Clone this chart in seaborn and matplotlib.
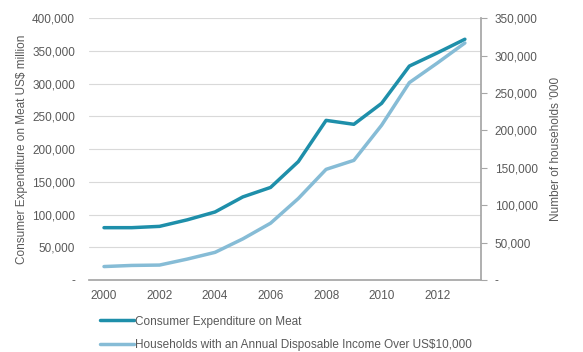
import numpy as np
import pandas as pd
import matplotlib
matplotlib.use("Agg")
import matplotlib.pyplot as plt
import seaborn as sns
from matplotlib.ticker import FuncFormatter, MultipleLocator
from matplotlib.lines import Line2D

# --- data ---
years = [2000, 2001, 2002, 2003, 2004, 2005, 2006, 2007, 2008, 2009, 2010, 2011, 2012, 2013]
meat_spend = [80000, 80000, 82000, 92000, 104000, 127000, 141500, 181000, 244000, 238000,
              270000, 327000, 347000, 368000]
households = [18000, 19500, 20000, 28000, 37000, 55000, 76000, 109000, 148000, 160000,
              207000, 264000, 290000, 317000]

label_meat = "Consumer Expenditure on Meat"
label_hh = "Households with an Annual Disposable Income Over US$10,000"

dark = "#1E8FAA"
light = "#86BCD6"
grey_txt = "#595959"
grey_axis = "#A6A6A6"

sns.set_theme(style="white")
plt.rcParams["font.family"] = ["Liberation Sans", "DejaVu Sans"]

df = pd.DataFrame({"year": years, "meat": meat_spend, "hh": households})

fig = plt.figure(figsize=(5.83, 3.52), dpi=100)
ax = fig.add_axes([0.1527, 0.2045, 0.6723, 0.7435])
ax2 = ax.twinx()

sns.lineplot(data=df, x="year", y="meat", ax=ax, color=dark, linewidth=2.5)
sns.lineplot(data=df, x="year", y="hh", ax=ax2, color=light, linewidth=2.5)

def fmt(v, pos):
    return "-" if v == 0 else f"{v:,.0f}"

ax.set_xlim(1999.46, 2013.58)
ax.set_ylim(0, 400000)
ax2.set_ylim(0, 350000)
ax.yaxis.set_major_locator(MultipleLocator(50000))
ax2.yaxis.set_major_locator(MultipleLocator(50000))
ax.yaxis.set_major_formatter(FuncFormatter(fmt))
ax2.yaxis.set_major_formatter(FuncFormatter(fmt))
ax.set_xticks(years[::2])

ax.grid(axis="y", color="#D9D9D9", linewidth=0.8)
ax.set_axisbelow(True)

for a in (ax, ax2):
    for s in a.spines.values():
        s.set_visible(False)
ax.spines["bottom"].set_visible(True)
ax.spines["bottom"].set_color(grey_axis)
ax2.spines["right"].set_visible(True)
ax2.spines["right"].set_color(grey_axis)

ax.tick_params(axis="y", length=0, pad=10, labelsize=8.5, labelcolor=grey_txt)
ax.tick_params(axis="x", length=0, pad=7, labelsize=8.5, labelcolor=grey_txt)
ax2.tick_params(axis="y", direction="out", length=4, width=0.8, color=grey_axis,
                pad=6, labelsize=8.5, labelcolor=grey_txt)

ax.set_xlabel("")
ax.set_ylabel("Consumer Expenditure on Meat US$ million", fontsize=8.5, color=grey_txt, labelpad=3)
ax2.set_ylabel("Number of households '000", fontsize=8.5, color=grey_txt, labelpad=9)

handles = [Line2D([], [], color=dark, linewidth=2.5), Line2D([], [], color=light, linewidth=2.5)]
leg = fig.legend(handles, [label_meat, label_hh], loc="upper left",
                 bbox_to_anchor=(0.163, 0.117), frameon=False, fontsize=8.5,
                 handlelength=2.9, handletextpad=0.1, labelspacing=0.95, borderaxespad=0)
for t in leg.get_texts():
    t.set_color(grey_txt)

fig.savefig("out.png", dpi=100)
